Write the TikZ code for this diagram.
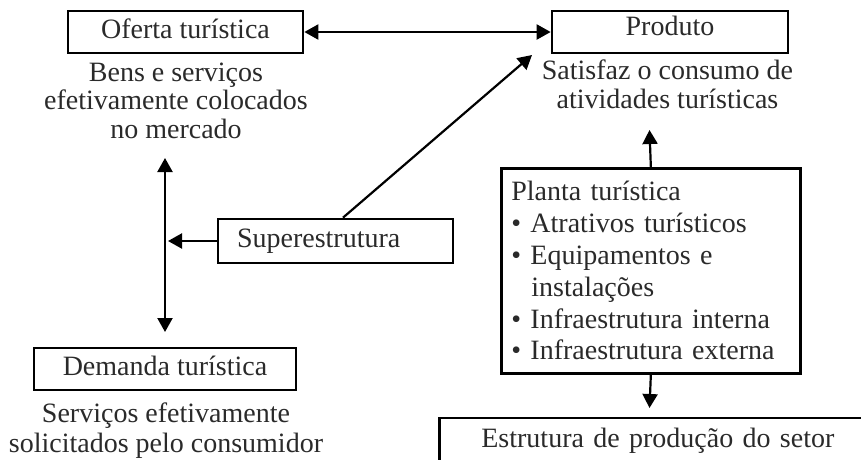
\documentclass[tikz,border=0pt]{standalone}
\usepackage{fontspec}
\setmainfont{Liberation Serif}
\usetikzlibrary{arrows.meta}
\definecolor{tc}{HTML}{2A2A2A}
\newcommand\fsz{\fontsize{28}{28.5}\selectfont}
\tikzset{
  box/.style={draw=black, line width=2.7pt, inner sep=0pt, text height=19pt, text depth=6pt, font=\fsz, text=tc},
  txt/.style={inner sep=0pt, align=center, font=\fsz, text=tc},
  arr/.style={line width=2.2pt, -{Triangle[length=14pt,width=15pt]}},
  darr/.style={line width=2.2pt, {Triangle[length=14pt,width=15pt]}-{Triangle[length=14pt,width=15pt]}},
}
\begin{document}
\begin{tikzpicture}[x=1pt,y=-1pt]
\useasboundingbox (0,0) rectangle (861,459);
\clip (0,0) rectangle (861,459);
% boxes
\node[box, minimum width=235pt, minimum height=42pt] (of) at (185.5,32) {Oferta turística};
\node[box, minimum width=236pt, minimum height=42pt, text height=16pt, text depth=9pt] (pr) at (670,32) {Produto};
\node[box, minimum width=235pt, minimum height=44pt, text width=197pt, inner xsep=19pt, align=left] (su) at (335.5,241) {Superestrutura};
\node[box, minimum width=262pt, minimum height=42pt] (de) at (165,369) {Demanda turística};
\node[box, anchor=west, minimum height=45pt, text width=420pt, inner xsep=42pt, align=left] (es) at (438,440.5) {Estrutura de produção do setor};
\node[box, anchor=north west, minimum width=299pt, minimum height=205pt, text height=, text depth=, text width=279pt, inner xsep=10pt, align=left, font=\fontsize{28}{31.8}\selectfont] (pl) at (500,167)
  {Planta turística\\• Atrativos turísticos\\• Equipamentos e\\\hspace*{20pt}instalações\\• Infraestrutura interna\\• Infraestrutura externa};
% descriptions (base = last line)
\node[txt, anchor=base] (ofd) at (176,138) {Bens e serviços\\efetivamente colocados\\no mercado};
\node[txt, anchor=base] (prd) at (667.5,108) {Satisfaz o consumo de\\atividades turísticas};
\node[txt, anchor=base, font=\fontsize{28}{30}\selectfont] (ded) at (166,452) {Serviços efetivamente\\solicitados pelo consumidor};
% free ends
\coordinate (dtip) at (532,55);
\coordinate (vt) at (165,158);
\coordinate (vb) at (165,332);
\coordinate (vm) at (168,241);
\coordinate (uptip) at (649.5,130);
\coordinate (dntip) at (649.5,408);
% connectors
\draw[darr] (of.east) -- (pr.west);
\draw[arr] ([xshift=7.5pt]su.north) -- (dtip);
\draw[darr] (vt) -- (vb);
\draw[arr] (su.west) -- (vm);
\draw[arr] (pl.north) -- (uptip);
\draw[arr] (pl.south) -- (dntip);
\end{tikzpicture}
\end{document}
